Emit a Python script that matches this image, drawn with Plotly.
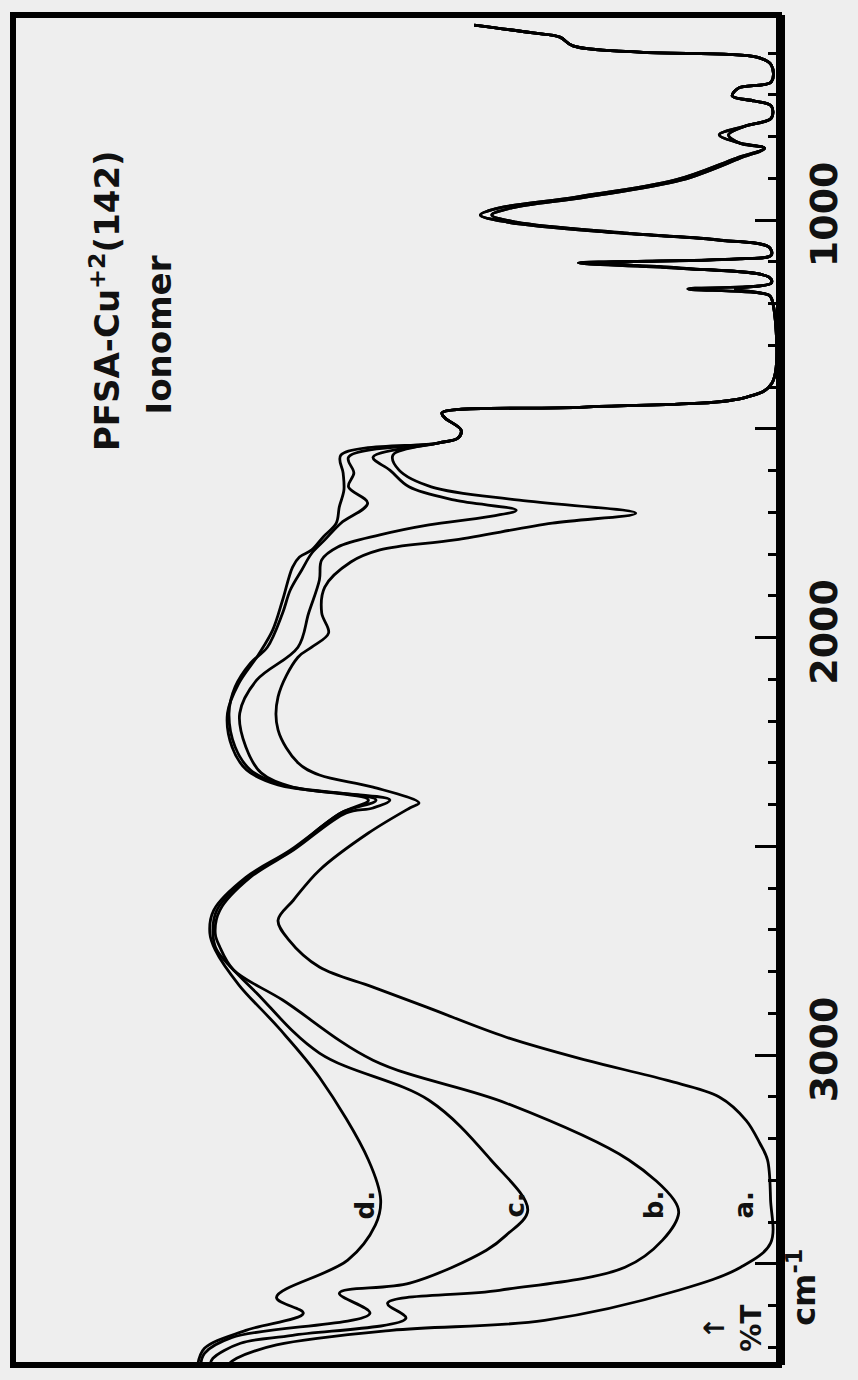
import plotly.graph_objects as go

# wavenumber (cm-1) / %T; shared strong-absorption region
top_wn_ab = [533, 552, 562, 583, 598, 610, 629, 669, 684, 703, 715, 727, 756, 775, 796, 816, 828,
             852, 904, 945, 971, 988, 1005, 1031, 1048, 1065, 1084, 1093, 1103, 1115, 1137, 1151,
             1165, 1180, 1192, 1390, 1424, 1448, 1462, 1474, 1503, 1522, 1534]
top_t_ab = [39.8, 32.1, 28.6, 26.9, 18.2, 2.9, 1.0, 1.0, 5.3, 6.1, 3.2, 1.0, 1.0, 4.4, 6.6, 5.1, 1.9,
            5.1, 12.7, 25.2, 34.9, 37.5, 34.3, 20.3, 7.6, 1.3, 1.0, 5.1, 23.5, 12.7, 1.3, 1.0,
            5.7, 1.3, 0.9, 0.9, 4.2, 25.4, 44.0, 43.6, 41.5, 41.9, 44.5]
top_t_cd = [39.8, 32.1, 28.6, 26.9, 18.2, 2.9, 1.0, 1.0, 5.3, 6.1, 3.2, 1.0, 1.0, 4.4, 7.8, 5.1, 1.9,
            5.6, 13.5, 26.5, 36.5, 39.0, 35.5, 21.0, 8.0, 1.3, 1.0, 5.5, 26.2, 13.5, 1.3, 1.0,
            11.9, 1.3, 0.9, 0.9, 4.2, 25.4, 44.0, 43.6, 41.5, 41.9, 44.5]

a_wn = [1563, 1599, 1639, 1671, 1702, 1726, 1766, 1790, 1819, 1879, 1941, 1989, 2023, 2047, 2142,
        2221, 2300, 2329, 2358, 2396, 2408, 2468, 2557, 2629, 2677, 2724, 2789, 2837, 2885, 2957,
        3012, 3060, 3100, 3156, 3211, 3251, 3347, 3450, 3508, 3563, 3635, 3659, 3694, 3726, 3742]
a_t = [50.4, 49.6, 45.4, 33.9, 18.7, 29.6, 42.3, 52.1, 55.9, 59.3, 59.7, 58.8, 61.0, 62.8, 65.4,
       65.4, 62.8, 60.0, 53.0, 47.0, 48.2, 53.6, 60.0, 63.4, 65.4, 64.0, 60.0, 53.0, 46.0, 35.6,
       25.2, 14.7, 7.8, 4.3, 2.5, 1.5, 1.1, 1.1, 5.0, 13.1, 30.6, 50.6, 65.6, 70.8, 72.0]

b_wn = [1568, 1599, 1639, 1671, 1695, 1711, 1730, 1754, 1783, 1814, 1862, 1941, 2023, 2102, 2181,
        2262, 2324, 2358, 2389, 2408, 2420, 2509, 2574, 2653, 2708, 2741, 2796, 2868, 3012, 3115,
        3251, 3347, 3378, 3443, 3508, 3563, 3594, 3630, 3671, 3690, 3726, 3742]
b_t = [53.0, 50.8, 48.3, 42.3, 34.3, 38.1, 45.7, 52.1, 57.6, 59.7, 60.0, 61.4, 62.8, 68.2, 70.4,
       69.6, 67.6, 63.5, 50.8, 53.0, 56.5, 63.4, 69.0, 73.0, 73.6, 73.0, 71.2, 64.8, 53.0, 35.6,
       19.6, 13.7, 13.1, 15.2, 20.1, 36.5, 51.1, 48.7, 63.5, 70.3, 73.9, 74.3]

c_wn = [1568, 1606, 1639, 1678, 1726, 1766, 1798, 1838, 1886, 1941, 2023, 2061, 2118, 2181, 2262,
        2317, 2353, 2389, 2420, 2509, 2574, 2653, 2708, 2748, 2851, 2995, 3108, 3251, 3371, 3431,
        3467, 3546, 3570, 3618, 3676, 3714, 3742]
c_t = [56.2, 55.5, 56.2, 53.7, 57.2, 59.3, 61.0, 62.3, 63.8, 64.8, 66.8, 69.0, 71.0, 71.8, 71.0,
       69.0, 64.8, 52.6, 57.2, 63.6, 69.3, 73.4, 73.9, 73.4, 68.2, 60.0, 45.7, 37.6, 32.8, 35.6,
       38.2, 48.2, 57.4, 53.4, 71.4, 75.0, 75.5]

d_wn = [1563, 1606, 1647, 1687, 1726, 1759, 1790, 1807, 1831, 1910, 1982, 2042, 2109, 2181, 2262,
        2317, 2353, 2389, 2420, 2509, 2574, 2653, 2708, 2748, 2832, 2933, 3053, 3251, 3347, 3407,
        3491, 3580, 3618, 3659, 3702, 3742]
d_t = [57.2, 56.9, 56.8, 57.4, 57.8, 59.5, 61.0, 62.6, 63.5, 64.8, 66.1, 68.0, 70.5, 72.0, 71.4,
       69.5, 65.4, 53.6, 57.2, 63.8, 69.6, 73.8, 74.3, 73.6, 70.5, 65.4, 60.0, 53.6, 52.0, 52.7,
       56.3, 65.6, 62.1, 69.6, 75.0, 75.9]

curve_labels = ["a.", "b.", "c.", "d."]
label_wn = [3359, 3359, 3359, 3359]
label_t = [4.5, 16.3, 34.4, 54.0]

labelled_ticks = [1000, 2000, 3000]
labelled_text = ["1000", "2000", "3000"]
long_unlabelled_ticks = [1500, 2500, 3500]
minor_ticks = [w for w in range(600, 3800, 100) if w % 500 != 0]
y_range = [3742, 509]
t_range = [100, 0]

curves = [
    (top_wn_ab + a_wn, top_t_ab + a_t),
    (top_wn_ab + b_wn, top_t_ab + b_t),
    (top_wn_ab + c_wn, top_t_cd + c_t),
    (top_wn_ab + d_wn, top_t_cd + d_t),
]

fig = go.Figure()
for wn, t in curves:
    fig.add_trace(go.Scatter(x=t, y=wn, mode="lines", line=dict(color="black", width=2.8),
                             line_shape="spline", showlegend=False, hoverinfo="skip"))
# invisible trace so the second (tick-only) axis is drawn
fig.add_trace(go.Scatter(x=[t_range[0]], y=[y_range[0]], yaxis="y2", mode="markers",
                         marker=dict(opacity=0), showlegend=False, hoverinfo="skip"))

ink = "#111111"
font_face = "DejaVu Sans"
for lab, w, t in zip(curve_labels, label_wn, label_t):
    fig.add_annotation(x=t, y=w, text=lab, showarrow=False, textangle=-90,
                       font=dict(family=font_face, size=26, color=ink, weight="bold"))

fig.add_annotation(x=88, y=1192, text="PFSA-Cu<sup>+2</sup>(142)", showarrow=False, textangle=-90,
                   font=dict(family=font_face, size=34, color=ink, weight="bold"))
fig.add_annotation(x=81, y=1275, text="Ionomer", showarrow=False, textangle=-90,
                   font=dict(family=font_face, size=34, color=ink, weight="bold"))
fig.add_annotation(x=6.0, y=3655, text="↑<br>%T", showarrow=False, textangle=-90,
                   font=dict(family=font_face, size=28, color=ink, weight="bold"))
fig.add_annotation(xref="paper", x=1.06, y=3555, text="cm<sup>-1</sup>", showarrow=False,
                   textangle=-90, font=dict(family=font_face, size=32, color=ink, weight="bold"))

fig.add_shape(type="rect", xref="paper", yref="paper", x0=0, x1=1, y0=0, y1=1,
              line=dict(color="black", width=6))

fig.update_layout(
    width=858, height=1380,
    margin=dict(l=13, r=58, t=15, b=15),
    paper_bgcolor="#eeeeee", plot_bgcolor="#eeeeee",
    xaxis=dict(range=t_range, showticklabels=False, ticks="", showgrid=False, zeroline=False,
               showline=False),
    yaxis=dict(range=y_range, side="right", showgrid=False, zeroline=False,
               showline=True, linecolor="black", linewidth=6,
               tickmode="array", tickvals=labelled_ticks, ticktext=labelled_text,
               ticks="inside", ticklen=24, tickwidth=3, tickcolor="black",
               tickangle=-90, ticklabelstandoff=6,
               tickfont=dict(family=font_face, size=38, color=ink, weight="bold"),
               minor=dict(tickmode="array", tickvals=minor_ticks, ticks="inside",
                          ticklen=11, tickwidth=3, tickcolor="black")),
    yaxis2=dict(range=y_range, overlaying="y", side="right", showgrid=False, zeroline=False,
                showline=False, tickmode="array", tickvals=long_unlabelled_ticks,
                showticklabels=False, ticks="inside", ticklen=24, tickwidth=3,
                tickcolor="black"),
)

fig.write_html("out.html")
